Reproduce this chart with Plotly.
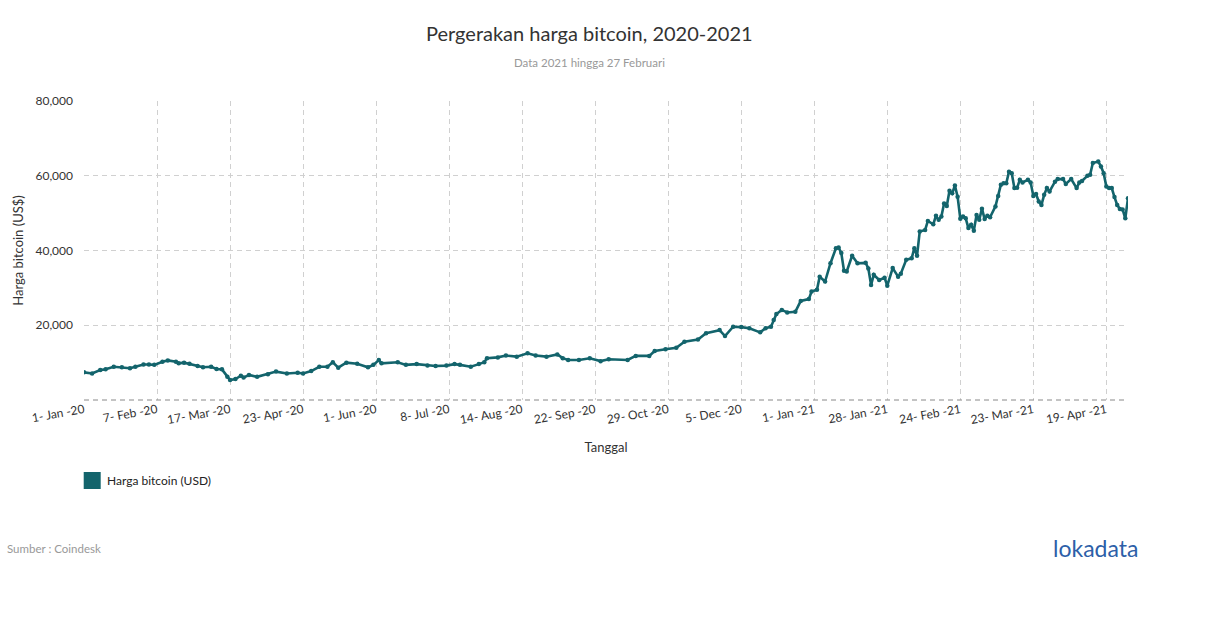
import plotly.graph_objects as go

# ---- data ----
tick_labels = ["1- Jan -20", "7- Feb -20", "17- Mar -20", "23- Apr -20", "1- Jun -20",
               "8- Jul -20", "14- Aug -20", "22- Sep -20", "29- Oct -20", "5- Dec -20",
               "1- Jan -21", "28- Jan -21", "24- Feb -21", "23- Mar -21", "19- Apr -21"]
points_per_tick = 27
n_points = 387

day_index = [0, 3, 6, 8, 11, 14, 17, 19, 22, 24, 26, 29, 31, 34, 35, 37, 39, 42, 44, 47,
             49, 51, 53, 54, 56, 58, 59, 61, 64, 68, 71, 75, 79, 81, 84, 87, 90, 92, 94, 97,
             101, 105, 107, 109, 110, 116, 119, 123, 127, 130, 134, 137, 139, 143, 146, 148, 149, 153, 156, 160,
             164, 167, 171, 175, 177, 179, 183, 187, 191, 194, 201, 204, 209, 211, 215, 219, 222, 227, 230, 235,
             237, 240, 243, 246, 250, 252, 254, 255, 256, 258, 260, 263, 265, 268, 269, 271, 272, 274, 276, 278,
             279, 280, 281, 282, 284, 286, 289, 290, 291, 292, 294, 296, 297, 299, 301, 302, 304, 306, 307, 308,
             309, 311, 312, 314, 315, 316, 317, 318, 319, 320, 321, 322, 323, 324, 325, 326, 327, 328, 329, 330,
             331, 332, 333, 334, 335, 337, 338, 339, 340, 341, 342, 343, 344, 345, 346, 347, 349, 350, 351, 352,
             353, 354, 355, 356, 357, 359, 360, 362, 363, 365, 367, 368, 369, 371, 372, 373, 375, 376, 377, 378,
             379, 380, 381, 382, 383, 384, 385, 386]

price_usd = [7400, 7100, 8000, 8200, 8900, 8750, 8500, 8900, 9500, 9500, 9400, 10250, 10600, 10250, 9800, 10000, 9700, 9100, 8750, 8900,
             8300, 8200, 6200, 5350, 5600, 6500, 6000, 6700, 6200, 6900, 7600, 7100, 7300, 7100, 7750, 8900, 8900, 10100, 8650, 10000,
             9700, 8750, 9400, 10700, 9800, 10100, 9400, 9600, 9200, 9100, 9200, 9600, 9400, 8900, 9600, 10100, 11200, 11400, 11900, 11600,
             12500, 11900, 11600, 12200, 11200, 10700, 10700, 11150, 10400, 10900, 10700, 11800, 11800, 13100, 13600, 14000, 15600, 16200, 17850, 18700,
             17100, 19600, 19500, 19200, 18100, 19200, 19600, 21400, 23000, 24100, 23400, 23600, 26500, 27000, 29000, 29500, 33000, 31700, 36600, 40600,
             40800, 39300, 34600, 34400, 38600, 36600, 36700, 35200, 30800, 33500, 32100, 32700, 30600, 35300, 33000, 33800, 37500, 37900, 40600, 38600,
             45100, 45500, 47900, 47000, 49300, 48200, 49100, 52600, 51900, 56000, 55300, 57400, 54400, 48500, 49100, 48600, 46000, 46900, 45300, 49500,
             48200, 51200, 48400, 49300, 48900, 51800, 54600, 57600, 58000, 58000, 61100, 60700, 56700, 56800, 58900, 58200, 58900, 58200, 54600, 55100,
             53100, 52200, 54900, 56700, 55800, 58400, 59100, 59100, 57800, 59100, 56700, 58200, 58600, 60000, 60300, 63400, 63800, 62500, 60700, 57100,
             56700, 56700, 54300, 52200, 51100, 51000, 48600, 54000]

y_ticks = [20000, 40000, 60000, 80000]

# ---- layout geometry (pixels) ----
W, H = 1210, 628
PL, PR, PT, PB = 84.3, 1128, 101, 400
LINE = "#13646c"


def px(x):
    return (x - PL) / (PR - PL)


def py(y):
    return (PB - y) / (PB - PT)


fig = go.Figure()
fig.add_trace(go.Scatter(
    x=day_index, y=price_usd, mode="lines+markers",
    line=dict(color=LINE, width=2.6),
    marker=dict(color=LINE, size=4.5),
    name="Harga bitcoin (USD)", showlegend=False,
    hoverinfo="y",
))

tickvals = [i * points_per_tick for i in range(len(tick_labels))]

fig.update_layout(
    width=W, height=H,
    margin=dict(l=PL, r=W - PR, t=PT, b=H - PB, pad=0),
    paper_bgcolor="white", plot_bgcolor="white",
    font=dict(family="Lato, 'Open Sans', sans-serif", size=12, color="#333"),
    xaxis=dict(
        range=[0, n_points - 1],
        tickvals=tickvals, ticktext=tick_labels, tickangle=-10,
        showgrid=True, gridcolor="#d0d0d0", griddash="5px,4px", gridwidth=1,
        zeroline=False, showline=False, ticks="",
        tickfont=dict(size=12, color="#333"),
        title=dict(text="Tanggal", font=dict(size=13, color="#333"), standoff=16),
    ),
    yaxis=dict(
        range=[0, 80000], tickvals=y_ticks, tickformat=",",
        showgrid=True, gridcolor="#d0d0d0", griddash="5px,4px", gridwidth=1,
        zeroline=False, showline=False, ticks="", ticklen=0,
        ticklabelstandoff=10,
        tickfont=dict(size=12, color="#333"),
        title=dict(text="Harga bitcoin (US$)", font=dict(size=13, color="#333"), standoff=8),
    ),
)

# bottom axis line (dashed, darker)
fig.add_shape(type="line", xref="paper", yref="paper", x0=0, x1=1, y0=0, y1=0,
              line=dict(color="#888", width=1, dash="5px,4px"))

# title / subtitle
fig.add_annotation(text="Pergerakan harga bitcoin, 2020-2021", xref="paper", yref="paper",
                   x=px(590), y=py(33), showarrow=False, xanchor="center", yanchor="middle",
                   font=dict(size=20, color="#333"))
fig.add_annotation(text="Data 2021 hingga 27 Februari", xref="paper", yref="paper",
                   x=px(590), y=py(62), showarrow=False, xanchor="center", yanchor="middle",
                   font=dict(size=11.5, color="#999"))

# legend swatch + label
fig.add_shape(type="rect", xref="paper", yref="paper",
              x0=px(84), x1=px(101), y0=py(489), y1=py(472),
              fillcolor=LINE, line=dict(width=0))
fig.add_annotation(text="Harga bitcoin (USD)", xref="paper", yref="paper",
                   x=px(105), y=py(480.5), showarrow=False, xanchor="left", yanchor="middle",
                   font=dict(size=12, color="#222"))

# source
fig.add_annotation(text="Sumber : Coindesk", xref="paper", yref="paper",
                   x=px(5), y=py(548), showarrow=False, xanchor="left", yanchor="middle",
                   font=dict(size=11.5, color="#999"))

# logo text
fig.add_annotation(text="lokadata", xref="paper", yref="paper",
                   x=px(1140), y=py(548), showarrow=False, xanchor="right", yanchor="middle",
                   font=dict(size=23, color="#2d5fa8", family="Lato, sans-serif"))

fig.write_html("out.html", config={"displayModeBar": False},
               post_script="document.body.style.margin='0';")
